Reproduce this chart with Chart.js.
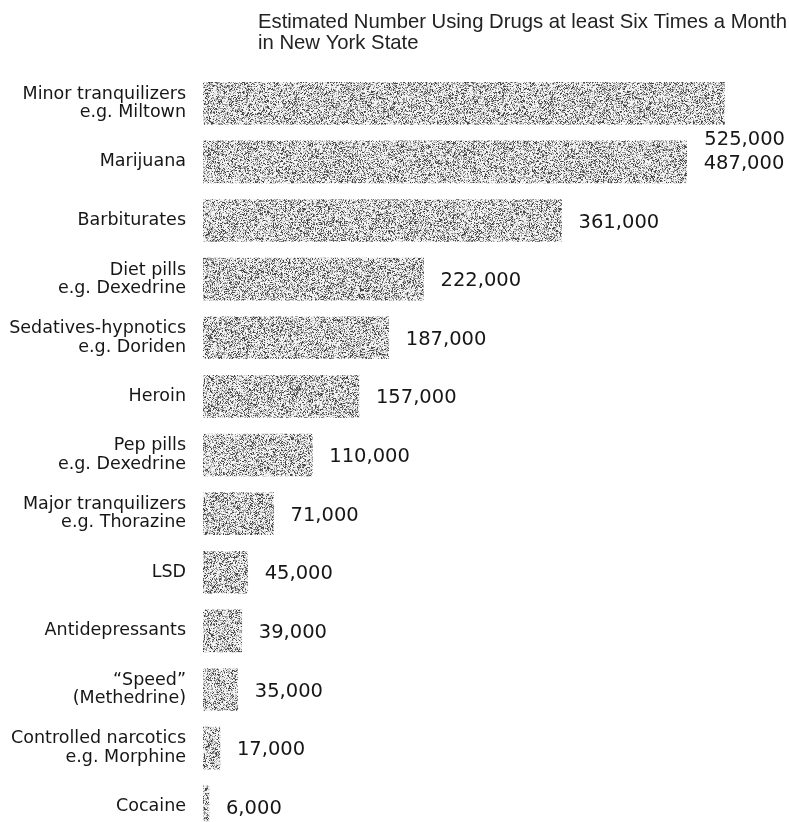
<!DOCTYPE html>
<html>
<head>
<meta charset="utf-8">
<script src="https://cdn.jsdelivr.net/npm/chart.js@4/dist/chart.umd.min.js"></script>
<style>
  html, body { margin: 0; padding: 0; background: #ffffff; overflow: hidden; }
  canvas { display: block; }
</style>
</head>
<body>
<canvas id="c" width="789" height="836"></canvas>
<script>
// ---- data ----
const titleLines = ["Estimated Number Using Drugs at least Six Times a Month", "in New York State"];
const categories = [
  ["Minor tranquilizers", "e.g. Miltown"],
  "Marijuana",
  "Barbiturates",
  ["Diet pills", "e.g. Dexedrine"],
  ["Sedatives-hypnotics", "e.g. Doriden"],
  "Heroin",
  ["Pep pills", "e.g. Dexedrine"],
  ["Major tranquilizers", "e.g. Thorazine"],
  "LSD",
  "Antidepressants",
  ["\u201CSpeed\u201D", "(Methedrine)"],
  ["Controlled narcotics", "e.g. Morphine"],
  "Cocaine"
];
const users = [525000, 487000, 361000, 222000, 187000, 157000, 110000, 71000, 45000, 39000, 35000, 17000, 6000];
const xMax = 590000;

// ---- stipple texture (style only, deterministic) ----
function makeStipple() {
  const s = 256;
  const pc = document.createElement('canvas');
  pc.width = s; pc.height = s;
  const g = pc.getContext('2d');
  const img = g.createImageData(s, s);
  for (let y = 0; y < s; y++) {
    for (let x = 0; x < s; x++) {
      let h = Math.imul(x, 0x27d4eb2d) ^ Math.imul(y + 7919, 0x165667b1);
      h = Math.imul(h ^ (h >>> 15), 0x85ebca6b);
      h = Math.imul(h ^ (h >>> 13), 0xc2b2ae35);
      h = (h ^ (h >>> 16)) >>> 0;
      const r = (h % 10000) / 10000;
      const v = r < 0.16 ? 70 : (r < 0.36 ? 145 : (r < 0.52 ? 200 : 243));
      const i = (y * s + x) * 4;
      img.data[i] = v; img.data[i + 1] = v; img.data[i + 2] = v; img.data[i + 3] = 255;
    }
  }
  g.putImageData(img, 0, 0);
  return g.createPattern(pc, 'repeat');
}

const textColor = '#161616';

const titlePlugin = {
  id: 'customTitle',
  afterDraw(chart) {
    const ctx = chart.ctx;
    ctx.save();
    ctx.fillStyle = '#222';
    ctx.font = '20.3px "Liberation Sans", Arial, sans-serif';
    ctx.textBaseline = 'middle';
    ctx.textAlign = 'left';
    ctx.fillText(titleLines[0], 258, 22);
    ctx.fillText(titleLines[1], 258, 43);
    ctx.restore();
  }
};

const valueLabels = {
  id: 'valueLabels',
  afterDatasetsDraw(chart) {
    const ctx = chart.ctx;
    const meta = chart.getDatasetMeta(0);
    ctx.save();
    ctx.fillStyle = textColor;
    ctx.font = '19.5px "DejaVu Sans", sans-serif';
    ctx.textBaseline = 'middle';
    meta.data.forEach((bar, i) => {
      const txt = users[i].toLocaleString('en-US');
      const w = ctx.measureText(txt).width;
      let x = bar.x + 17;
      let y = bar.y + 2;
      if (x + w > chart.width - 4) {
        ctx.textAlign = 'right';
        x = chart.width - 4;
        y = bar.y + bar.height / 2 + 16;
      } else {
        ctx.textAlign = 'left';
      }
      ctx.fillText(txt, x, y);
    });
    ctx.restore();
  }
};

new Chart(document.getElementById('c'), {
  type: 'bar',
  data: {
    labels: categories,
    datasets: [{
      data: users,
      backgroundColor: makeStipple(),
      borderWidth: 0,
      barThickness: 42
    }]
  },
  options: {
    indexAxis: 'y',
    responsive: false,
    animation: false,
    layout: { padding: { top: 74, right: 0, bottom: 0, left: 0 } },
    plugins: { legend: { display: false }, tooltip: { enabled: false }, title: { display: false } },
    scales: {
      x: { display: false, min: 0, max: xMax },
      y: {
        grid: { display: false, drawTicks: false },
        border: { display: false },
        afterFit(scale) {
          scale.width = 203;
          scale.paddingTop = 0;
          scale.paddingBottom = 0;
        },
        ticks: {
          color: textColor,
          padding: 17,
          font: { family: '"DejaVu Sans", sans-serif', size: 17.5, lineHeight: 1.05 }
        }
      }
    }
  },
  plugins: [titlePlugin, valueLabels]
});
</script>
</body>
</html>
